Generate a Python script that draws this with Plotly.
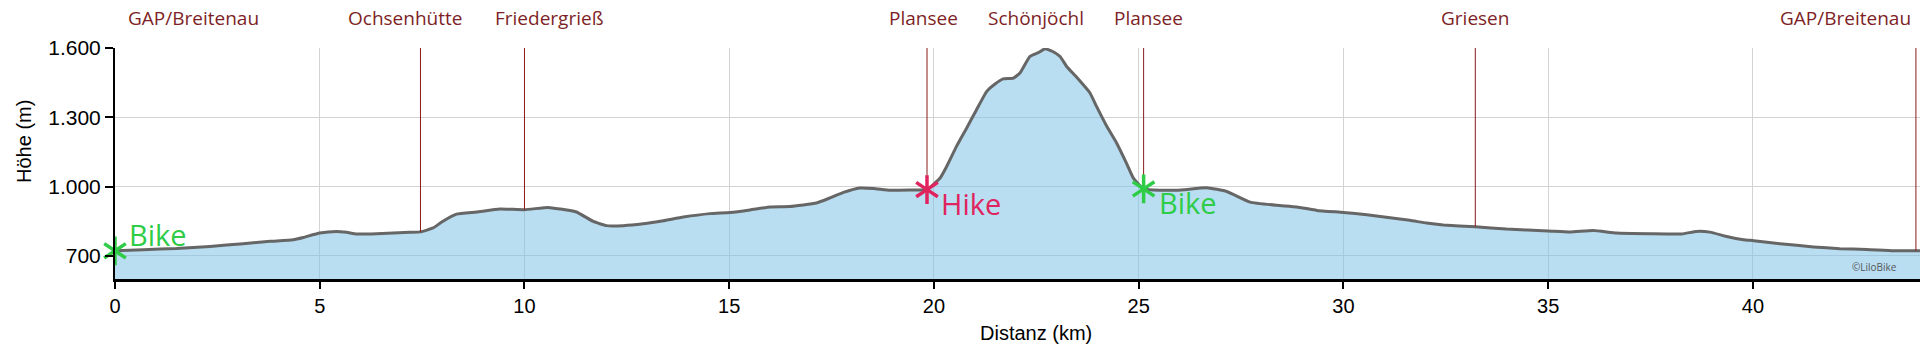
import numpy as np
import plotly.graph_objects as go

# ---- data ----
km = [0.0, 0.69, 1.5, 2.32, 3.13, 3.79, 4.35, 4.6, 5.0, 5.41, 5.66, 5.9, 6.39, 7.2, 7.46,
      7.77, 7.98, 8.34, 8.83, 9.4, 10.0, 10.58, 10.87, 11.27, 11.68, 12.0, 12.41, 12.9,
      13.39, 13.88, 14.53, 15.02, 15.51, 16.0, 16.48, 17.13, 17.46, 17.79, 18.19, 18.52,
      18.93, 19.41, 19.83, 20.15, 20.31, 20.55, 20.8, 21.04, 21.29, 21.5, 21.69, 21.94, 22.1,
      22.34, 22.55, 22.71, 22.9, 23.08, 23.24, 23.48, 23.81, 23.97, 24.22, 24.46, 24.7, 24.87, 25.12,
      25.93, 26.66, 27.15, 27.72, 28.37, 28.86, 29.35, 30.0, 30.57, 31.14, 31.62, 32.03,
      32.44, 33.22, 33.98, 35.0, 35.53, 36.1, 36.67, 37.48, 38.26, 38.62, 38.95, 39.36,
      39.77, 40.02, 40.66, 41.48, 42.12, 42.78, 43.43, 44.08]
elev = [722, 727, 732, 741, 753, 763, 770, 780, 799, 806, 802, 795, 796, 802, 804,
        821, 847, 881, 890, 903, 900, 910, 903, 890, 849, 831, 831, 839,
        852, 868, 883, 888, 899, 912, 914, 929, 951, 975, 994, 992,
        984, 985, 987, 1037, 1087, 1174, 1254, 1333, 1412, 1445, 1466, 1470, 1492,
        1563, 1580, 1597, 1585, 1563, 1520, 1474, 1405, 1347, 1261, 1189, 1102, 1037, 990,
        984, 995, 979, 933, 919, 912, 897, 888, 878, 865, 854, 842,
        834, 826, 816, 808, 803, 810, 799, 796, 795, 806, 803, 784,
        770, 766, 753, 739, 731, 728, 722, 722]

wp_km = [0.0, 7.46, 10.0, 19.83, 22.5, 25.12, 33.22, 43.98]
wp_names = ["GAP/Breitenau", "Ochsenhütte", "Friedergrieß", "Plansee", "Schönjöchl",
            "Plansee", "Griesen", "GAP/Breitenau"]
wp_has_line = [False, True, True, True, False, True, True, True]

mode_km = [0.0, 19.83, 25.12]
mode_names = ["Bike", "Hike", "Bike"]

x_ticks = [0, 5, 10, 15, 20, 25, 30, 35, 40]
x_ticklabels = ["0", "5", "10", "15", "20", "25", "30", "35", "40"]
y_ticks = [700, 1000, 1300, 1600]
y_ticklabels = ["700", "1.000", "1.300", "1.600"]

X_RANGE = [0, 44.08]
Y_RANGE = [600, 1600]

# ---- styles ----
label_shift = [78, -15, 25, -4, 0, 5, 0, -70]
mode_colors = ["#2ecc47", "#e0245e", "#2ecc47"]
mode_text_shift = [(12, 16), (12, -14), (13, -14)]
WP_COLOR = "#8b1a1a"
LABEL_COLOR = "#7d1f26"

fig = go.Figure()

# elevation profile
fig.add_trace(go.Scatter(
    x=km, y=elev, mode="lines", fill="tozeroy",
    fillcolor="rgba(128,194,231,0.55)",
    line=dict(color="#666666", width=3, shape="spline", smoothing=0.4),
    hoverinfo="skip", showlegend=False))

# waypoint vertical lines from profile up to the top
wp_elev = np.interp(wp_km, km, elev)
lx, ly = [], []
for k, e, has in zip(wp_km, wp_elev, wp_has_line):
    if has:
        lx += [k, k, None]
        ly += [float(e), Y_RANGE[1], None]
fig.add_trace(go.Scatter(x=lx, y=ly, mode="lines",
                         line=dict(color=WP_COLOR, width=1),
                         hoverinfo="skip", showlegend=False, cliponaxis=False))

# mode markers (six-armed asterisk = y-up + y-down)
mode_elev = np.interp(mode_km, km, elev)
for sym in ["y-up-open", "y-down-open"]:
    fig.add_trace(go.Scatter(
        x=mode_km, y=mode_elev, mode="markers",
        marker=dict(symbol=sym, size=18, color=mode_colors,
                    line=dict(color=mode_colors, width=3.5)),
        hoverinfo="skip", showlegend=False, cliponaxis=False))

annotations = []
for name, k, e, c, (dx, dy) in zip(mode_names, mode_km, mode_elev, mode_colors, mode_text_shift):
    annotations.append(dict(x=k, y=float(e), xref="x", yref="y", text=name,
                            showarrow=False, xanchor="left", yanchor="middle",
                            xshift=dx, yshift=dy,
                            font=dict(family="Open Sans", size=29, color=c)))

for name, k, sh in zip(wp_names, wp_km, label_shift):
    annotations.append(dict(x=k, y=1, xref="x", yref="paper", text=name,
                            showarrow=False, xanchor="center", yanchor="middle",
                            xshift=sh, yshift=30,
                            font=dict(family="Open Sans", size=19, color=LABEL_COLOR)))

annotations.append(dict(x=0.5105, y=-0.2325, xref="paper", yref="paper",
                        text="Distanz (km)", showarrow=False,
                        xanchor="center", yanchor="middle",
                        font=dict(family="Liberation Sans, Arial", size=20, color="black")))
annotations.append(dict(x=-0.0501, y=0.5957, xref="paper", yref="paper",
                        text="Höhe (m)", showarrow=False, textangle=-90,
                        xanchor="center", yanchor="middle",
                        font=dict(family="Liberation Sans, Arial", size=20, color="black")))
annotations.append(dict(x=0.9884, y=0.05, xref="paper", yref="paper",
                        text="©LiloBike", showarrow=False,
                        xanchor="right", yanchor="middle",
                        font=dict(family="Open Sans", size=10, color="#555555")))

fig.update_layout(
    width=1920, height=361,
    margin=dict(l=115, r=0, t=48, b=82),
    paper_bgcolor="white", plot_bgcolor="white",
    showlegend=False,
    annotations=annotations,
    font=dict(family="Liberation Sans, Arial", size=20, color="black"),
)
fig.update_xaxes(range=X_RANGE, tickvals=x_ticks, ticktext=x_ticklabels,
                 showgrid=True, gridcolor="#d3d3d3", gridwidth=1,
                 zeroline=False, showline=True, linecolor="black", linewidth=2.5,
                 ticks="outside", ticklen=7, tickwidth=1.5, tickcolor="black",
                 tickfont=dict(size=20, color="black"), fixedrange=True)
fig.update_yaxes(range=Y_RANGE, tickvals=y_ticks, ticktext=y_ticklabels,
                 showgrid=True, gridcolor="#d3d3d3", gridwidth=1,
                 zeroline=False, showline=True, linecolor="black", linewidth=2,
                 ticks="outside", ticklen=8, tickwidth=1.5, tickcolor="black",
                 tickfont=dict(size=21, color="black"), fixedrange=True)

fig.write_html("out.html", config={"displayModeBar": False},
               post_script="document.body.style.margin='0';document.body.style.overflow='hidden';")
